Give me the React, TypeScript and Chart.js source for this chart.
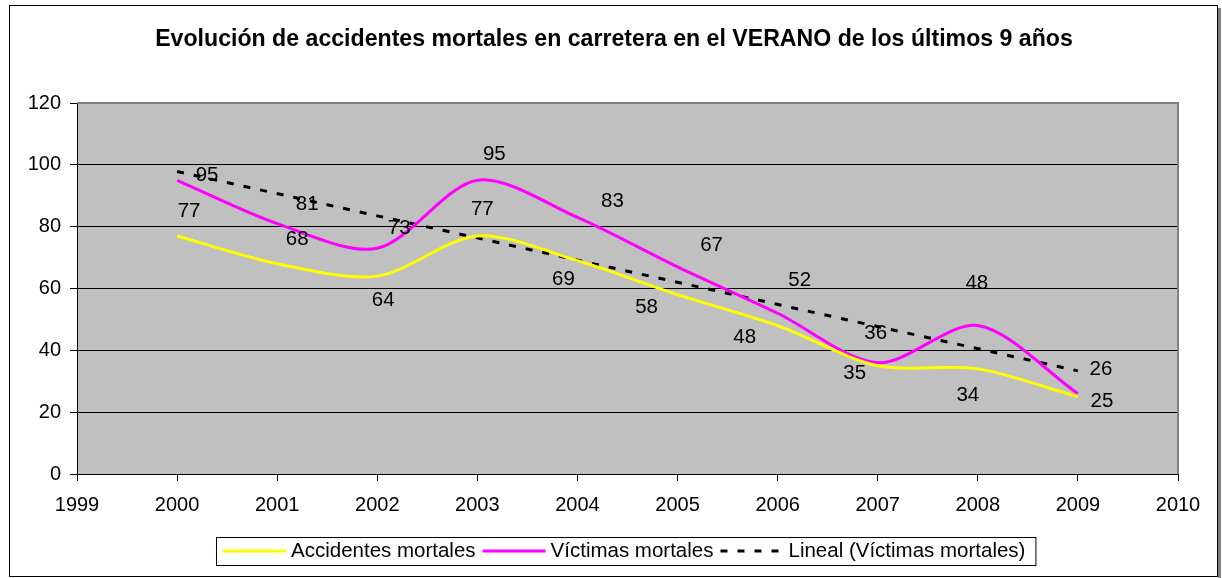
import React, { useEffect, useRef } from "react";
import { Chart, registerables } from "chart.js";

Chart.register(...registerables);

// ---------- data ----------
const TITLE = "Evolución de accidentes mortales en carretera en el VERANO de los últimos 9 años";
const years = [2000, 2001, 2002, 2003, 2004, 2005, 2006, 2007, 2008, 2009];
const accidentes = [77, 68, 64, 77, 69, 58, 48, 35, 34, 25];
const victimas = [95, 81, 73, 95, 83, 67, 52, 36, 48, 26];
const seriesNames = ["Accidentes mortales", "Víctimas mortales", "Lineal (Víctimas mortales)"];
const xRange = [1999, 2010];
const yRange = [0, 120];
const yStep = 20;

// ---------- style ----------
const FONT = "'Liberation Sans', Arial, sans-serif";
const COLORS = ["#FFFF00", "#FF00FF", "#000000"];
const PLOT_BG = "#C0C0C0";
// data label offsets (pixels) relative to each point
const accidentesLabelOffsets = [[12, -25], [20, -24], [6, 24], [5, -27], [-14, 19], [-31, 13], [-33, 12], [-23, 8], [-10, 26], [24, 5]];
const victimasLabelOffsets = [[30, -5], [30, -19], [22, -20], [17, -26], [35, -16], [34, -22], [22, -33], [-2, -29], [-1, -42], [23, -24]];

function linearFit(xs: number[], ys: number[]) {
  const n = xs.length;
  const mx = xs.reduce((a, b) => a + b, 0) / n;
  const my = ys.reduce((a, b) => a + b, 0) / n;
  let sxy = 0, sxx = 0;
  for (let i = 0; i < n; i++) {
    sxy += (xs[i] - mx) * (ys[i] - my);
    sxx += (xs[i] - mx) * (xs[i] - mx);
  }
  const b = sxy / sxx;
  return (x: number) => my + b * (x - mx);
}

const chromePlugin = {
  id: "chrome",
  beforeDraw(chart: any) {
    const { ctx, chartArea: a, width, height } = chart;
    ctx.save();
    ctx.fillStyle = "#FFFFFF";
    ctx.fillRect(0, 0, width, height);
    // shadow
    ctx.fillStyle = "#808080";
    ctx.fillRect(1218, 8, 3, height - 8);
    // outer border
    ctx.strokeStyle = "#000000";
    ctx.lineWidth = 1;
    ctx.strokeRect(9.5, 5.5, 1208, 571);
    // plot background
    ctx.fillStyle = PLOT_BG;
    ctx.fillRect(a.left, a.top, a.right - a.left, a.bottom - a.top);
    ctx.restore();
  },
  afterDatasetsDraw(chart: any) {
    const { ctx } = chart;
    ctx.save();
    ctx.font = `20.5px ${FONT}`;
    ctx.fillStyle = "#000000";
    ctx.textAlign = "center";
    ctx.textBaseline = "middle";
    const sets = [
      { idx: 0, vals: accidentes, offs: accidentesLabelOffsets },
      { idx: 1, vals: victimas, offs: victimasLabelOffsets },
    ];
    for (const s of sets) {
      const meta = chart.getDatasetMeta(s.idx);
      meta.data.forEach((pt: any, i: number) => {
        ctx.fillText(String(s.vals[i]), pt.x + s.offs[i][0], pt.y + s.offs[i][1]);
      });
    }
    ctx.restore();
  },
  afterDraw(chart: any) {
    const { ctx, chartArea: a } = chart;
    ctx.save();
    // plot border top / right
    ctx.strokeStyle = "#808080";
    ctx.lineWidth = 2;
    ctx.beginPath();
    ctx.moveTo(a.left, a.top);
    ctx.lineTo(a.right, a.top);
    ctx.lineTo(a.right, a.bottom);
    ctx.stroke();

    // title
    ctx.fillStyle = "#000000";
    ctx.font = `bold 100px ${FONT}`;
    const w100 = ctx.measureText(TITLE).width;
    const size = (100 * 918) / w100;
    ctx.font = `bold ${size}px ${FONT}`;
    ctx.textAlign = "center";
    ctx.textBaseline = "middle";
    ctx.fillText(TITLE, 614, 40);

    // legend
    ctx.font = `20.5px ${FONT}`;
    ctx.textAlign = "left";
    const ly = 551;
    let x = 223;
    const sampleLen = 63;
    chart.data.datasets.forEach((ds: any) => {
      ctx.beginPath();
      ctx.strokeStyle = ds.borderColor;
      ctx.lineWidth = 3;
      ctx.setLineDash(ds.borderDash || []);
      ctx.moveTo(x, ly);
      ctx.lineTo(x + sampleLen, ly);
      ctx.stroke();
      ctx.setLineDash([]);
      x += sampleLen + 5;
      ctx.fillStyle = "#000000";
      ctx.fillText(ds.label, x, ly);
      x += ctx.measureText(ds.label).width + 7;
    });
    ctx.strokeStyle = "#000000";
    ctx.lineWidth = 1;
    ctx.strokeRect(216.5, 537.5, x + 3 - 216, 28);
    ctx.restore();
  },
};

export default function App() {
  const ref = useRef<HTMLCanvasElement | null>(null);
  useEffect(() => {
    if (!ref.current) return;
    const fit = linearFit(years, victimas);
    const first = years[0];
    const last = years[years.length - 1];
    const chart = new Chart(ref.current, {
      type: "line",
      data: {
        datasets: [
          {
            label: seriesNames[0],
            data: years.map((y, i) => ({ x: y, y: accidentes[i] })),
            borderColor: COLORS[0],
            borderWidth: 3,
            pointRadius: 0,
            tension: 0.3,
            fill: false,
          },
          {
            label: seriesNames[1],
            data: years.map((y, i) => ({ x: y, y: victimas[i] })),
            borderColor: COLORS[1],
            borderWidth: 3,
            pointRadius: 0,
            tension: 0.3,
            fill: false,
          },
          {
            label: seriesNames[2],
            data: [
              { x: first, y: fit(first) },
              { x: last, y: fit(last) },
            ],
            borderColor: COLORS[2],
            borderWidth: 3,
            borderDash: [7, 10],
            borderCapStyle: "butt",
            pointRadius: 0,
            tension: 0,
            fill: false,
          },
        ],
      },
      options: {
        animation: false,
        responsive: false,
        layout: { padding: { top: 103, right: 44, bottom: 0, left: 0 } },
        plugins: {
          legend: { display: false },
          title: { display: false },
          tooltip: { enabled: false },
        },
        scales: {
          x: {
            type: "linear",
            min: xRange[0],
            max: xRange[1],
            afterFit: (s: any) => { s.height = 104; },
            ticks: {
              stepSize: 1,
              color: "#000000",
              font: { family: FONT, size: 20 },
              padding: 12,
              maxRotation: 0,
              callback: (v: any) => String(v),
            },
            grid: { drawOnChartArea: false, drawTicks: true, tickLength: 7, color: "#000000" },
            border: { color: "#000000", width: 1 },
          },
          y: {
            type: "linear",
            min: yRange[0],
            max: yRange[1],
            afterFit: (s: any) => { s.width = 77; },
            ticks: {
              stepSize: yStep,
              color: "#000000",
              font: { family: FONT, size: 20 },
              padding: 9,
            },
            grid: { color: "#000000", lineWidth: 1, tickLength: 7 },
            border: { color: "#000000", width: 1 },
          },
        },
      },
      plugins: [chromePlugin],
    });
    return () => chart.destroy();
  }, []);
  return (
    <div style={{ position: "absolute", left: 0, top: 0, width: 1222, height: 578 }}>
      <canvas ref={ref} width={1222} height={578} />
    </div>
  );
}
